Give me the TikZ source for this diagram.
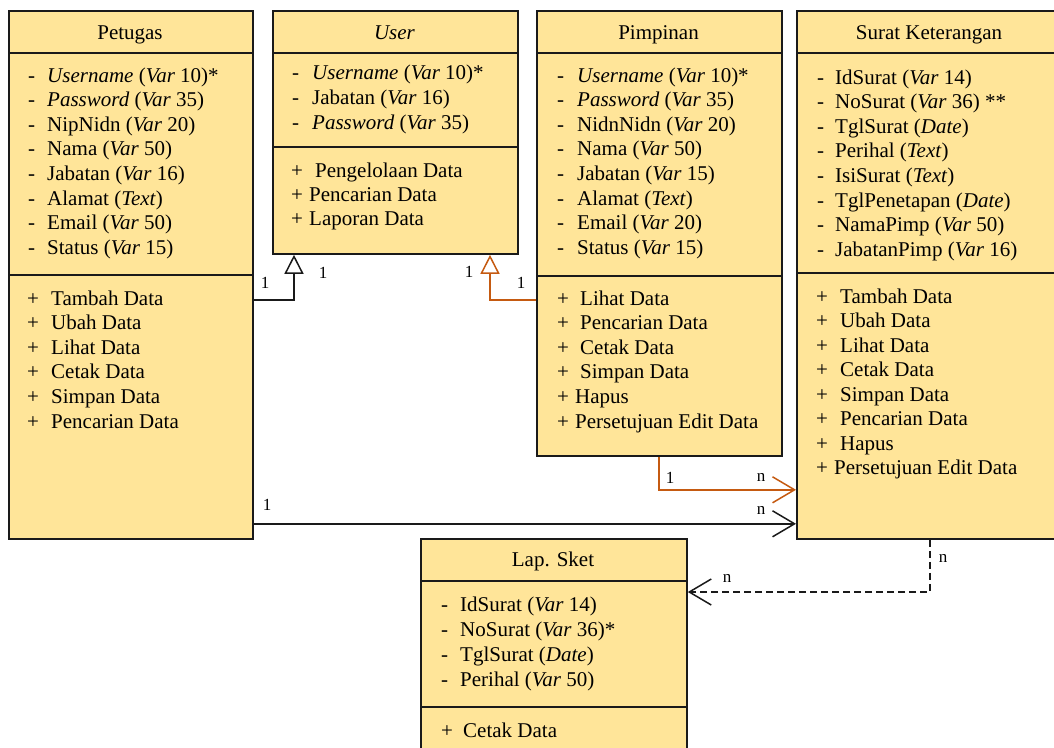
\documentclass[tikz,border=0pt]{standalone}
\usepackage{fontspec}
\setmainfont{Liberation Serif}
\usetikzlibrary{arrows.meta}
\definecolor{boxfill}{HTML}{FFE599}
\definecolor{boxline}{HTML}{1A1A1A}
\definecolor{rel}{HTML}{C55A11}
\newcommand\mrk[2]{\makebox[#1][l]{#2}}
\begin{document}
\begin{tikzpicture}[x=1pt,y=-1pt,
  comp/.style={draw=boxline, fill=boxfill, line width=1.8pt, anchor=north west, inner sep=0pt},
  txt/.style={anchor=base west, inner sep=0pt, font=\fontsize{21}{24}\selectfont},
  ttl/.style={anchor=base, inner sep=0pt, font=\fontsize{21}{24}\selectfont},
  lab/.style={inner sep=0pt, font=\fontsize{17}{17}\selectfont},
  gen/.style={-{Triangle[open,length=19pt,width=19pt,fill=white]}, line width=1.5pt},
  assoc/.style={-{Straight Barb[length=22pt,width=26pt]}, line width=1.5pt},
  dsh/.style={dash pattern=on 7pt off 4pt}]
\useasboundingbox (0,0) rectangle (1054,747);
\clip (0,0) rectangle (1054,747);
\fill[white] (0,0) rectangle (1054,747);

% ---------- Petugas ----------
\node[comp, minimum width=244pt, minimum height=42pt]  (peth) at (8,10) {};
\node[comp, minimum width=244pt, minimum height=222pt] (peta) at (8,52) {};
\node[comp, minimum width=244pt, minimum height=264pt] (petm) at (8,274) {};
\node[ttl] (pett) at (130,39.5) {Petugas};
\foreach \t [count=\i] in {
  {\mrk{19pt}{-}\textit{Username} (\textit{Var} 10)*},
  {\mrk{19pt}{-}\textit{Password} (\textit{Var} 35)},
  {\mrk{19pt}{-}NipNidn (\textit{Var} 20)},
  {\mrk{19pt}{-}Nama (\textit{Var} 50)},
  {\mrk{19pt}{-}Jabatan (\textit{Var} 16)},
  {\mrk{19pt}{-}Alamat (\textit{Text})},
  {\mrk{19pt}{-}Email (\textit{Var} 50)},
  {\mrk{19pt}{-}Status (\textit{Var} 15)}}
  \node[txt] (peta\i) at (28,{82+24.65*(\i-1)}) {\t};
\foreach \t [count=\i] in {
  {\mrk{24pt}{+}Tambah Data},
  {\mrk{24pt}{+}Ubah Data},
  {\mrk{24pt}{+}Lihat Data},
  {\mrk{24pt}{+}Cetak Data},
  {\mrk{24pt}{+}Simpan Data},
  {\mrk{24pt}{+}Pencarian Data}}
  \node[txt] (petm\i) at (27,{305+24.6*(\i-1)}) {\t};

% ---------- User ----------
\node[comp, minimum width=245pt, minimum height=42pt]  (useh) at (272,10) {};
\node[comp, minimum width=245pt, minimum height=94pt]  (usea) at (272,52) {};
\node[comp, minimum width=245pt, minimum height=107pt] (userm) at (272,146) {};
\node[ttl] (uset) at (394.5,39.5) {\textit{User}};
\foreach \t [count=\i] in {
  {\mrk{20pt}{-}\textit{Username} (\textit{Var} 10)*},
  {\mrk{20pt}{-}Jabatan (\textit{Var} 16)},
  {\mrk{20pt}{-}\textit{Password} (\textit{Var} 35)}}
  \node[txt] (usea\i) at (292,{79+25*(\i-1)}) {\t};
\foreach \t [count=\i] in {
  {\mrk{24pt}{+}Pengelolaan Data},
  {\mrk{18pt}{+}Pencarian Data},
  {\mrk{18pt}{+}Laporan Data}}
  \node[txt] (usem\i) at (291,{177+24*(\i-1)}) {\t};

% ---------- Pimpinan ----------
\node[comp, minimum width=245pt, minimum height=42pt]  (pimh) at (536,10) {};
\node[comp, minimum width=245pt, minimum height=223pt] (pima) at (536,52) {};
\node[comp, minimum width=245pt, minimum height=180pt] (pimm) at (536,275) {};
\node[ttl] (pimt) at (658.5,39.5) {Pimpinan};
\foreach \t [count=\i] in {
  {\mrk{20pt}{-}\textit{Username} (\textit{Var} 10)*},
  {\mrk{20pt}{-}\textit{Password} (\textit{Var} 35)},
  {\mrk{20pt}{-}NidnNidn (\textit{Var} 20)},
  {\mrk{20pt}{-}Nama (\textit{Var} 50)},
  {\mrk{20pt}{-}Jabatan (\textit{Var} 15)},
  {\mrk{20pt}{-}Alamat (\textit{Text})},
  {\mrk{20pt}{-}Email (\textit{Var} 20)},
  {\mrk{20pt}{-}Status (\textit{Var} 15)}}
  \node[txt] (pima\i) at (557,{82+24.65*(\i-1)}) {\t};
\foreach \t [count=\i] in {
  {\mrk{23pt}{+}Lihat Data},
  {\mrk{23pt}{+}Pencarian Data},
  {\mrk{23pt}{+}Cetak Data},
  {\mrk{23pt}{+}Simpan Data},
  {\mrk{18pt}{+}Hapus},
  {\mrk{18pt}{+}Persetujuan Edit Data}}
  \node[txt] (pimm\i) at (557,{305+24.6*(\i-1)}) {\t};

% ---------- Surat Keterangan ----------
\node[comp, minimum width=266pt, minimum height=42pt]  (surh) at (796,10) {};
\node[comp, minimum width=266pt, minimum height=220pt] (sura) at (796,52) {};
\node[comp, minimum width=266pt, minimum height=266pt] (surm) at (796,272) {};
\node[ttl] (surt) at (929,39.5) {Surat Keterangan};
\foreach \t [count=\i] in {
  {\mrk{18pt}{-}IdSurat (\textit{Var} 14)},
  {\mrk{18pt}{-}NoSurat (\textit{Var} 36) **},
  {\mrk{18pt}{-}TglSurat (\textit{Date})},
  {\mrk{18pt}{-}Perihal (\textit{Text})},
  {\mrk{18pt}{-}IsiSurat (\textit{Text})},
  {\mrk{18pt}{-}TglPenetapan (\textit{Date})},
  {\mrk{18pt}{-}NamaPimp (\textit{Var} 50)},
  {\mrk{18pt}{-}JabatanPimp (\textit{Var} 16)}}
  \node[txt] (sura\i) at (817,{84+24.6*(\i-1)}) {\t};
\foreach \t [count=\i] in {
  {\mrk{24pt}{+}Tambah Data},
  {\mrk{24pt}{+}Ubah Data},
  {\mrk{24pt}{+}Lihat Data},
  {\mrk{24pt}{+}Cetak Data},
  {\mrk{24pt}{+}Simpan Data},
  {\mrk{24pt}{+}Pencarian Data},
  {\mrk{24pt}{+}Hapus},
  {\mrk{18pt}{+}Persetujuan Edit Data}}
  \node[txt] (surm\i) at (816,{303+24.57*(\i-1)}) {\t};

% ---------- Lap. Sket ----------
\node[comp, minimum width=266pt, minimum height=42pt]  (laph) at (420,538) {};
\node[comp, minimum width=266pt, minimum height=126pt] (lapa) at (420,580) {};
\node[comp, minimum width=266pt, minimum height=60pt]  (lapm) at (420,706) {};
\node[ttl] (lapt) at (553,566.5) {Lap. Sket};
\foreach \t [count=\i] in {
  {\mrk{19pt}{-}IdSurat (\textit{Var} 14)},
  {\mrk{19pt}{-}NoSurat (\textit{Var} 36)*},
  {\mrk{19pt}{-}TglSurat (\textit{Date})},
  {\mrk{19pt}{-}Perihal (\textit{Var} 50)}}
  \node[txt] (lapa\i) at (441,{611+25*(\i-1)}) {\t};
\node[txt] (lapm1) at (441,737) {\mrk{22pt}{+}Cetak Data};

% ---------- connectors ----------
\draw[gen, boxline] ([yshift=-26pt]petm.north east) -| ([xshift=22pt]userm.south west);
\draw[gen, rel] ([yshift=-25pt]pimm.north west) -| ([xshift=218pt]userm.south west);
\draw[assoc, rel] ([xshift=123pt]pimm.south west) |- ([yshift=50pt]surm.south west);
\draw[assoc, boxline] ([yshift=16pt]petm.south east) -- ([yshift=16pt]surm.south west);
\draw[assoc, boxline, dsh] ([xshift=134pt]surm.south west) |- ([yshift=-12pt]lapa.north east);

% ---------- multiplicities ----------
\node[lab] (l1) at (265,283) {1};
\node[lab] (l2) at (323,273) {1};
\node[lab] (l3) at (469,272) {1};
\node[lab] (l4) at (521,283) {1};
\node[lab] (l5) at (670,478) {1};
\node[lab] (l6) at (761,477) {n};
\node[lab] (l7) at (267,505) {1};
\node[lab] (l8) at (761,510) {n};
\node[lab] (l9) at (943,558) {n};
\node[lab] (l10) at (727,578) {n};
\end{tikzpicture}
\end{document}
